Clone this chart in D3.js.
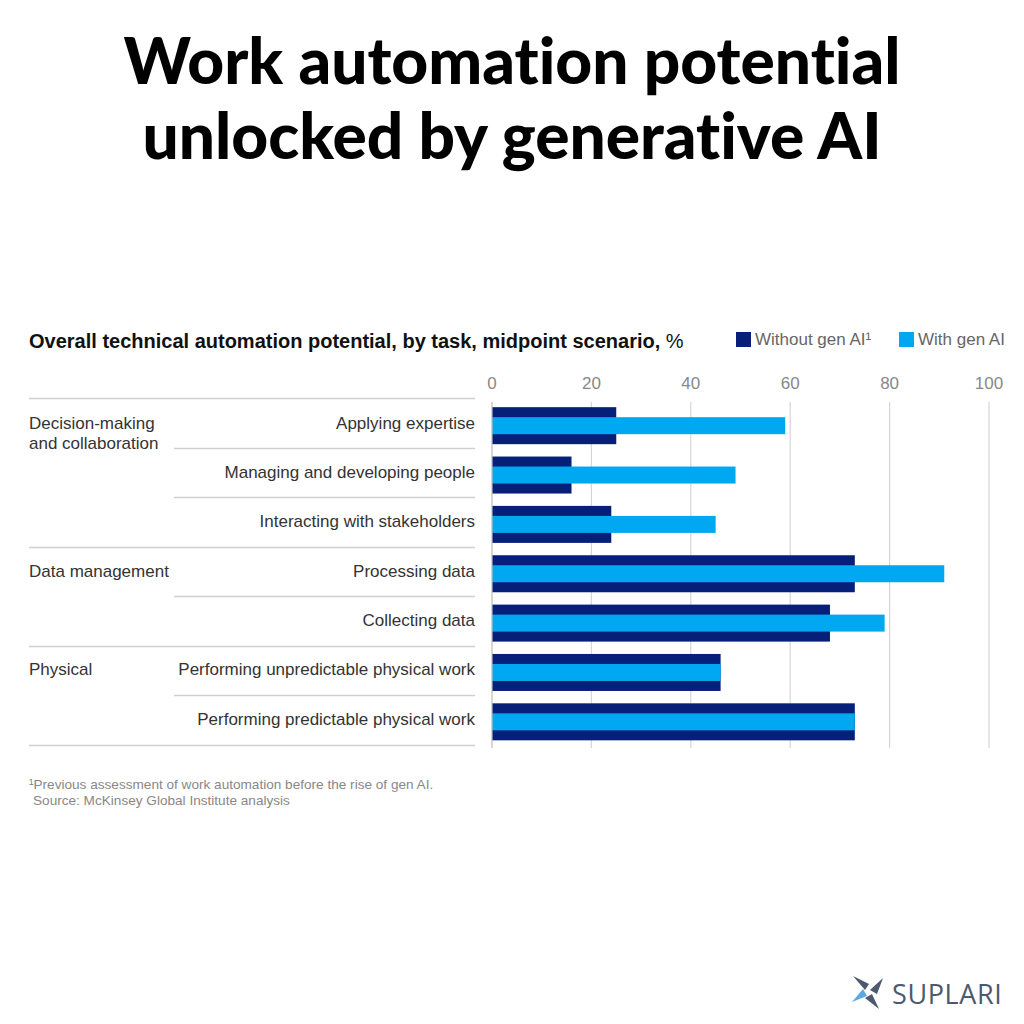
<!DOCTYPE html>
<html><head><meta charset="utf-8">
<script src="https://cdn.jsdelivr.net/npm/d3@7"></script>
<style>body{margin:0;background:#fff}svg{display:block}text{font-variant-ligatures:none;font-feature-settings:"liga" 0}</style>
</head><body>
<svg id="c" width="1024" height="1024"></svg>
<script>
const tasks = ["Applying expertise","Managing and developing people","Interacting with stakeholders","Processing data","Collecting data","Performing unpredictable physical work","Performing predictable physical work"];
const groups = [["Decision-making","and collaboration"],["Data management"],["Physical"]];
const groupStart = [0,3,5];
const withoutGenAI = [25,16,24,73,68,46,73];
const withGenAI = [59,49,45,91,79,46,73];
const ticks = [0,20,40,60,80,100];
const seriesNames = ["Without gen AI\u00b9","With gen AI"];

const DARK = "#061f79", LIGHT = "#00a8f1";
const svg = d3.select("#c");
const FONT = "'Liberation Sans', Arial, sans-serif";

// Title
const t = svg.append("text").attr("text-anchor","middle").attr("font-family","Lato, sans-serif").attr("font-weight",900).attr("font-size",64).attr("fill","#000");
t.append("tspan").attr("x",512).attr("y",84).text("Work automation potential");
t.append("tspan").attr("x",512).attr("y",159).text("unlocked by generative AI");

// Subtitle
const st = svg.append("text").attr("x",29).attr("y",348).attr("font-family",FONT).attr("font-size",20).attr("fill","#111");
st.append("tspan").attr("font-weight","bold").text("Overall technical automation potential, by task, midpoint scenario, ");
st.append("tspan").text("%");

// Legend
const lg = [{x:736,c:DARK,t:seriesNames[0]},{x:899,c:LIGHT,t:seriesNames[1]}];
lg.forEach(d=>{
  svg.append("rect").attr("x",d.x).attr("y",332).attr("width",15).attr("height",15).attr("fill",d.c);
  svg.append("text").attr("x",d.x+19).attr("y",345).attr("font-family",FONT).attr("font-size",17).attr("fill","#666").text(d.t);
});

const x = d3.scaleLinear().domain([0,100]).range([492,989]);
const rows = d3.scaleBand().domain(tasks).range([398,745]).padding(0);
const y = d3.scaleBand().domain(tasks).range([401,746.5]).padding(0);

// gridlines
svg.append("g").selectAll("line").data(ticks.slice(1)).join("line")
  .attr("x1",d=>x(d)).attr("x2",d=>x(d)).attr("y1",402).attr("y2",748)
  .attr("stroke","#d6d6d6").attr("stroke-width",1.2);
// tick labels
svg.append("g").selectAll("text").data(ticks).join("text")
  .attr("x",d=>x(d)).attr("y",389).attr("text-anchor","middle")
  .attr("font-family",FONT).attr("font-size",17).attr("fill","#888").text(d=>d);

// bars
const bw = y.bandwidth();
svg.append("g").selectAll("rect").data(tasks).join("rect")
  .attr("x",x(0)).attr("y",(d)=>y(d)+(bw-37)/2)
  .attr("width",(d,i)=>x(withoutGenAI[i])-x(0)).attr("height",37).attr("fill",DARK);
svg.append("g").selectAll("rect").data(tasks).join("rect")
  .attr("x",x(0)).attr("y",(d)=>y(d)+(bw-17)/2)
  .attr("width",(d,i)=>x(withGenAI[i])-x(0)).attr("height",17).attr("fill",LIGHT);

// axis line
svg.append("line").attr("x1",x(0)).attr("x2",x(0)).attr("y1",402).attr("y2",748).attr("stroke","#bbb").attr("stroke-width",1.2);

// separators
const seps = d3.range(tasks.length+1).map(i=>({y:i===tasks.length? rows.range()[1] : rows(tasks[i]), full: i===tasks.length || groupStart.includes(i)}));
svg.append("g").selectAll("line").data(seps).join("line")
  .attr("x1",d=>d.full?29:174).attr("x2",475).attr("y1",d=>Math.round(d.y)+0.5).attr("y2",d=>Math.round(d.y)+0.5)
  .attr("stroke","#d0d0d0").attr("stroke-width",1.3);

// task labels
svg.append("g").selectAll("text").data(tasks).join("text")
  .attr("x",475).attr("y",d=>y(d)+bw/2+3).attr("text-anchor","end")
  .attr("font-family",FONT).attr("font-size",17).attr("fill","#333").text(d=>d);

// group labels
groups.forEach((g,gi)=>{
  const yy = y(tasks[groupStart[gi]])+bw/2+3;
  g.forEach((line,li)=>{
    svg.append("text").attr("x",29).attr("y",yy+li*20).attr("font-family",FONT).attr("font-size",17).attr("fill","#333").text(line);
  });
});

// footnotes
svg.append("text").attr("x",29).attr("y",789).attr("font-family",FONT).attr("font-size",13.6).attr("fill","#888").text("\u00b9Previous assessment of work automation before the rise of gen AI.");
svg.append("text").attr("x",33).attr("y",805).attr("font-family",FONT).attr("font-size",13.6).attr("fill","#888").text("Source: McKinsey Global Institute analysis");

// logo
const lgG = svg.append("g").attr("transform","translate(867,992)");
lgG.append("path").attr("d","M-14,-16 L2,-8 L-2,-2 Z").attr("fill","#4b5a6e");
lgG.append("path").attr("d","M16,-14 L10,2 L3,-2 Z").attr("fill","#4b5a6e");
lgG.append("path").attr("d","M-15,10 L-4,-3 L0,4 Z").attr("fill","#5aa9e6");
lgG.append("path").attr("d","M12,17 L-2,6 L5,2 Z").attr("fill","#4b5a6e");
svg.append("text").attr("x",892).attr("y",1004).attr("font-family","'Open Sans', sans-serif").attr("font-size",27).attr("fill","#4b5a6e").attr("letter-spacing",0.6).text("SUPLARI");
</script>
</body></html>
